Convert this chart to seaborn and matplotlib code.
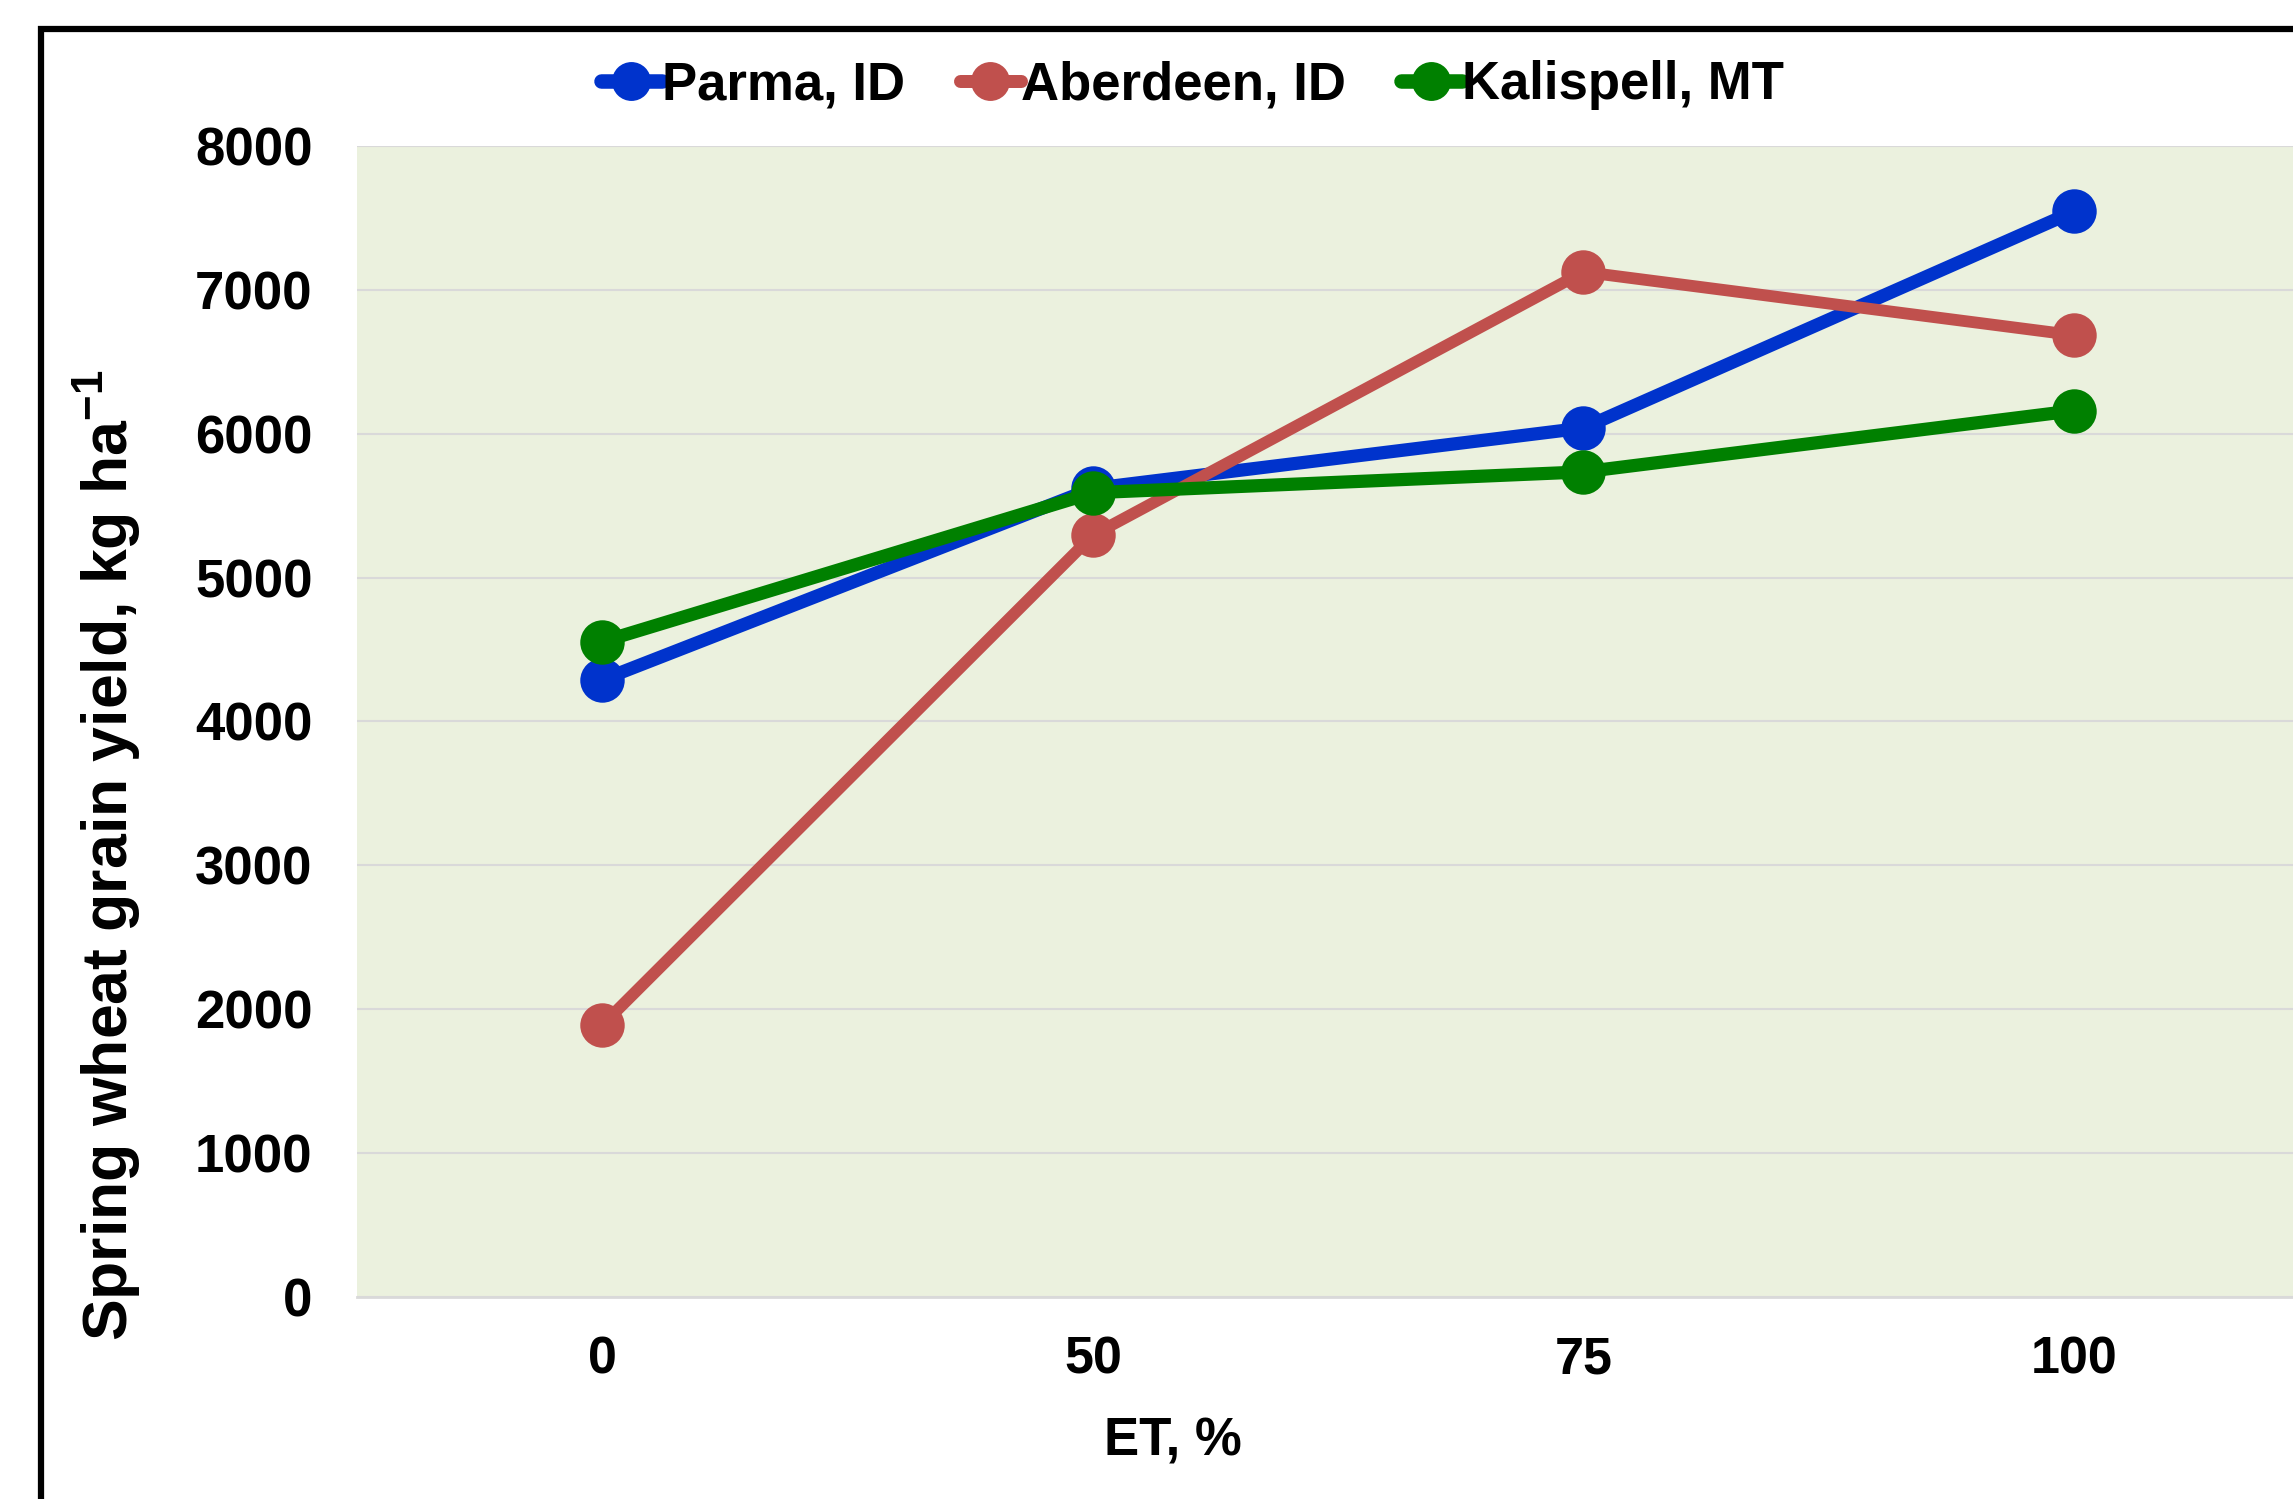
import matplotlib
matplotlib.use("Agg")
import matplotlib.pyplot as plt
import seaborn as sns
import pandas as pd
from matplotlib.lines import Line2D
from matplotlib.patches import Rectangle

# ---- data ----
et_levels = ["0", "50", "75", "100"]
parma = [4290, 5620, 6040, 7545]
aberdeen = [1890, 5295, 7125, 6685]
kalispell = [4555, 5590, 5735, 6160]
series_names = ["Parma, ID", "Aberdeen, ID", "Kalispell, MT"]
y_ticks = [0, 1000, 2000, 3000, 4000, 5000, 6000, 7000, 8000]

colors = {"Parma, ID": "#0033CC", "Aberdeen, ID": "#C0504D", "Kalispell, MT": "#008000"}
widths = {"Parma, ID": 9.5, "Aberdeen, ID": 8.5, "Kalispell, MT": 9.5}

sns.set_theme(style="white")
plt.rcParams["font.family"] = ["Liberation Sans", "DejaVu Sans"]
plt.rcParams["font.weight"] = "bold"
plt.rcParams["text.color"] = "black"
plt.rcParams["axes.labelcolor"] = "black"
plt.rcParams["xtick.color"] = "black"
plt.rcParams["ytick.color"] = "black"
plt.rcParams["mathtext.fontset"] = "custom"
plt.rcParams["mathtext.bf"] = "Liberation Sans:bold"
plt.rcParams["mathtext.rm"] = "Liberation Sans:bold"
plt.rcParams["mathtext.default"] = "bf"

df = pd.DataFrame({
    "ET": et_levels * 3,
    "yield": parma + aberdeen + kalispell,
    "site": [series_names[0]] * 4 + [series_names[1]] * 4 + [series_names[2]] * 4,
})
df["pos"] = df["ET"].map({lvl: i for i, lvl in enumerate(et_levels)})

fig = plt.figure(figsize=(22.93, 14.99), dpi=100)
ax = fig.add_axes([0.1557, 0.1348, 0.8558, 0.7678])
ax.set_facecolor("#EBF1DE")

MS = 32
for i, name in enumerate(series_names):
    sub = df[df["site"] == name]
    n_before = len(ax.lines)
    sns.lineplot(data=sub, x="pos", y="yield", color=colors[name], marker="o",
                 linewidth=widths[name], markersize=MS, markeredgewidth=0,
                 errorbar=None, ax=ax, zorder=3 + i, legend=False)
    for ln in list(ax.lines)[n_before:]:
        ln.set_linewidth(widths[name])
        ln.set_markersize(MS)
        ln.set_markeredgewidth(0)
        ln.set_solid_capstyle("round")
        ln.set_solid_joinstyle("round")

ax.set_xlim(-0.5, 3.5)
ax.set_ylim(0, 8000)
ax.set_yticks(y_ticks)
ax.set_yticklabels([str(v) for v in y_ticks], fontsize=38, fontweight="bold", color="black")
ax.set_xticks(range(len(et_levels)))
ax.set_xticklabels(et_levels, fontsize=37.5, fontweight="bold", color="black")
ax.tick_params(axis="y", length=0, pad=32)
ax.tick_params(axis="x", length=0, pad=28)
ax.grid(axis="y", color="#D9D9D9", linewidth=1.5, zorder=0)
ax.set_axisbelow(True)
for s in ["left", "right", "top"]:
    ax.spines[s].set_visible(False)
ax.spines["bottom"].set_color("#D9D9D9")
ax.spines["bottom"].set_linewidth(2)

ax.set_xlabel("ET, %", fontsize=38, fontweight="bold", color="black")
ax.xaxis.set_label_coords(0.416, -0.104)
ax.set_ylabel(r"Spring wheat grain yield, kg ha$^{-1}$", fontsize=45, fontweight="bold",
              color="black")
ax.yaxis.set_label_coords(-0.109, 0.384)

handles = [Line2D([0], [0], color=colors[n], linewidth=widths[n] * 1.1, marker="o",
                  markersize=28, markeredgewidth=0, solid_capstyle="round")
           for n in series_names]
leg = fig.legend(handles, series_names, loc="center", bbox_to_anchor=(0.52, 0.943), ncol=3,
                 frameon=False, handlelength=1.15, handletextpad=0.0,
                 columnspacing=1.05, prop={"weight": "bold", "size": 38})
for t in leg.get_texts():
    t.set_color("black")

# outer chart frame (cropped at the right and bottom)
frame = Rectangle((41 / 2293, -0.2), 1.5, 1.2 - 29 / 1499, transform=fig.transFigure,
                  fill=False, edgecolor="black", linewidth=4.5, clip_on=False)
fig.patches.append(frame)

fig.savefig("out.png", dpi=100)
